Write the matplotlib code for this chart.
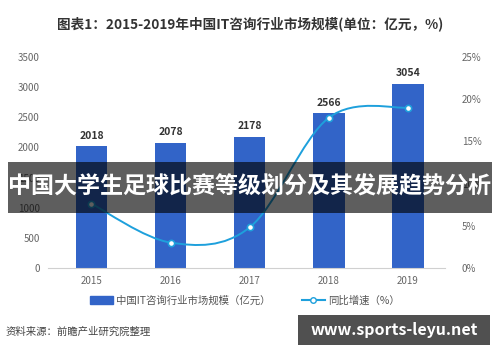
import numpy as np
import matplotlib
matplotlib.use('Agg')
import matplotlib.pyplot as plt
from matplotlib.path import Path
from matplotlib.patches import PathPatch, Rectangle
from matplotlib.lines import Line2D
from matplotlib.patches import Patch

plt.rcParams['font.family'] = ['Noto Sans CJK SC', 'DejaVu Sans']

# 数据
years = ['2015', '2016', '2017', '2018', '2019']
market_size = [2018, 2078, 2178, 2566, 3054]
growth_rate = [7.6, 3.0, 4.8, 17.8, 19.0]
left_ticks = [0, 500, 1000, 1500, 2000, 2500, 3000, 3500]
right_ticks = [0, 5, 10, 15, 20, 25]

bar_color = '#3264c8'
line_color = '#1ea0dc'
tick_color = '#666666'

fig = plt.figure(figsize=(5, 3.62), dpi=100)
ax = fig.add_axes([0.096, 0.26, 0.794, 0.5825])
ax2 = ax.twinx()

x = np.arange(len(years))
ax.bar(x, market_size, width=0.4, color=bar_color, zorder=2)
for i, v in enumerate(market_size):
    ax.text(x[i], v + 90, str(v), ha='center', va='bottom', fontsize=7.5,
            fontweight='bold', color='#333333')

ax.set_xlim(-0.55, 4.47)
ax.set_ylim(0, 3500)
ax.set_xticks(x)
ax.set_xticklabels(years)
ax.set_yticks(left_ticks)
ax.set_yticklabels([str(t) for t in left_ticks])
ax.tick_params(length=0, labelsize=7, colors=tick_color, pad=6)
for s in ['top', 'right', 'left']:
    ax.spines[s].set_visible(False)
ax.spines['bottom'].set_color('#d0d0d0')

# 平滑曲线 (Catmull-Rom -> Bezier)
pts = np.column_stack([x, growth_rate]).astype(float)
verts = [pts[0]]
codes = [Path.MOVETO]
for i in range(len(pts) - 1):
    p0 = pts[i - 1] if i > 0 else pts[i]
    p1, p2 = pts[i], pts[i + 1]
    p3 = pts[i + 2] if i + 2 < len(pts) else pts[i + 1]
    c1 = p1 + (p2 - p0) / 6
    c2 = p2 - (p3 - p1) / 6
    verts += [c1, c2, p2]
    codes += [Path.CURVE4] * 3
ax2.add_patch(PathPatch(Path(verts, codes), fill=False, edgecolor=line_color, lw=1.4, zorder=3))
ax2.plot(x, growth_rate, 'o', ms=4.5, mfc='white', mec=line_color, mew=1.2, zorder=4)
ax2.set_ylim(0, 25)
ax2.set_yticks(right_ticks)
ax2.set_yticklabels([f'{t}%' for t in right_ticks])
ax2.tick_params(length=0, labelsize=7, colors=tick_color, pad=12)
for s in ['top', 'right', 'left', 'bottom']:
    ax2.spines[s].set_visible(False)

# 标题
fig.text(0.5, 0.935, '图表1：2015-2019年中国IT咨询行业市场规模(单位：亿元，%)', ha='center',
         va='center', fontsize=9.8, fontweight='bold', color='#333333')

# 图例
handles = [Patch(color=bar_color),
           Line2D([0], [0], color=line_color, marker='o', mfc='white', mec=line_color, ms=4)]
fig.legend(handles, ['中国IT咨询行业市场规模（亿元）', '同比增速（%）'], loc='center',
           bbox_to_anchor=(0.49, 0.17), ncol=2, frameon=False, fontsize=7.5,
           labelcolor='#555555', handlelength=2.2, columnspacing=3, handletextpad=0.3)

fig.text(0.012, 0.083, '资料来源：前瞻产业研究院整理', ha='left', va='center', fontsize=7.5,
         color='#444444')

# 遮罩横幅
fig.patches.append(Rectangle((0.016, 0.412), 0.968, 0.14, transform=fig.transFigure,
                             facecolor='black', alpha=0.63, zorder=10))
fig.text(0.5, 0.482, '中国大学生足球比赛等级划分及其发展趋势分析', ha='center', va='center',
         fontsize=16.6, fontweight='bold', color='white', zorder=11)

fig.patches.append(Rectangle((0.596, 0.047), 0.384, 0.083, transform=fig.transFigure,
                             facecolor='#505050', zorder=10))
fig.text(0.788, 0.088, 'www.sports-leyu.net', ha='center', va='center', fontsize=11.5,
         fontweight='bold', color='white', zorder=11)

fig.savefig('out.png', dpi=100, facecolor='white')
